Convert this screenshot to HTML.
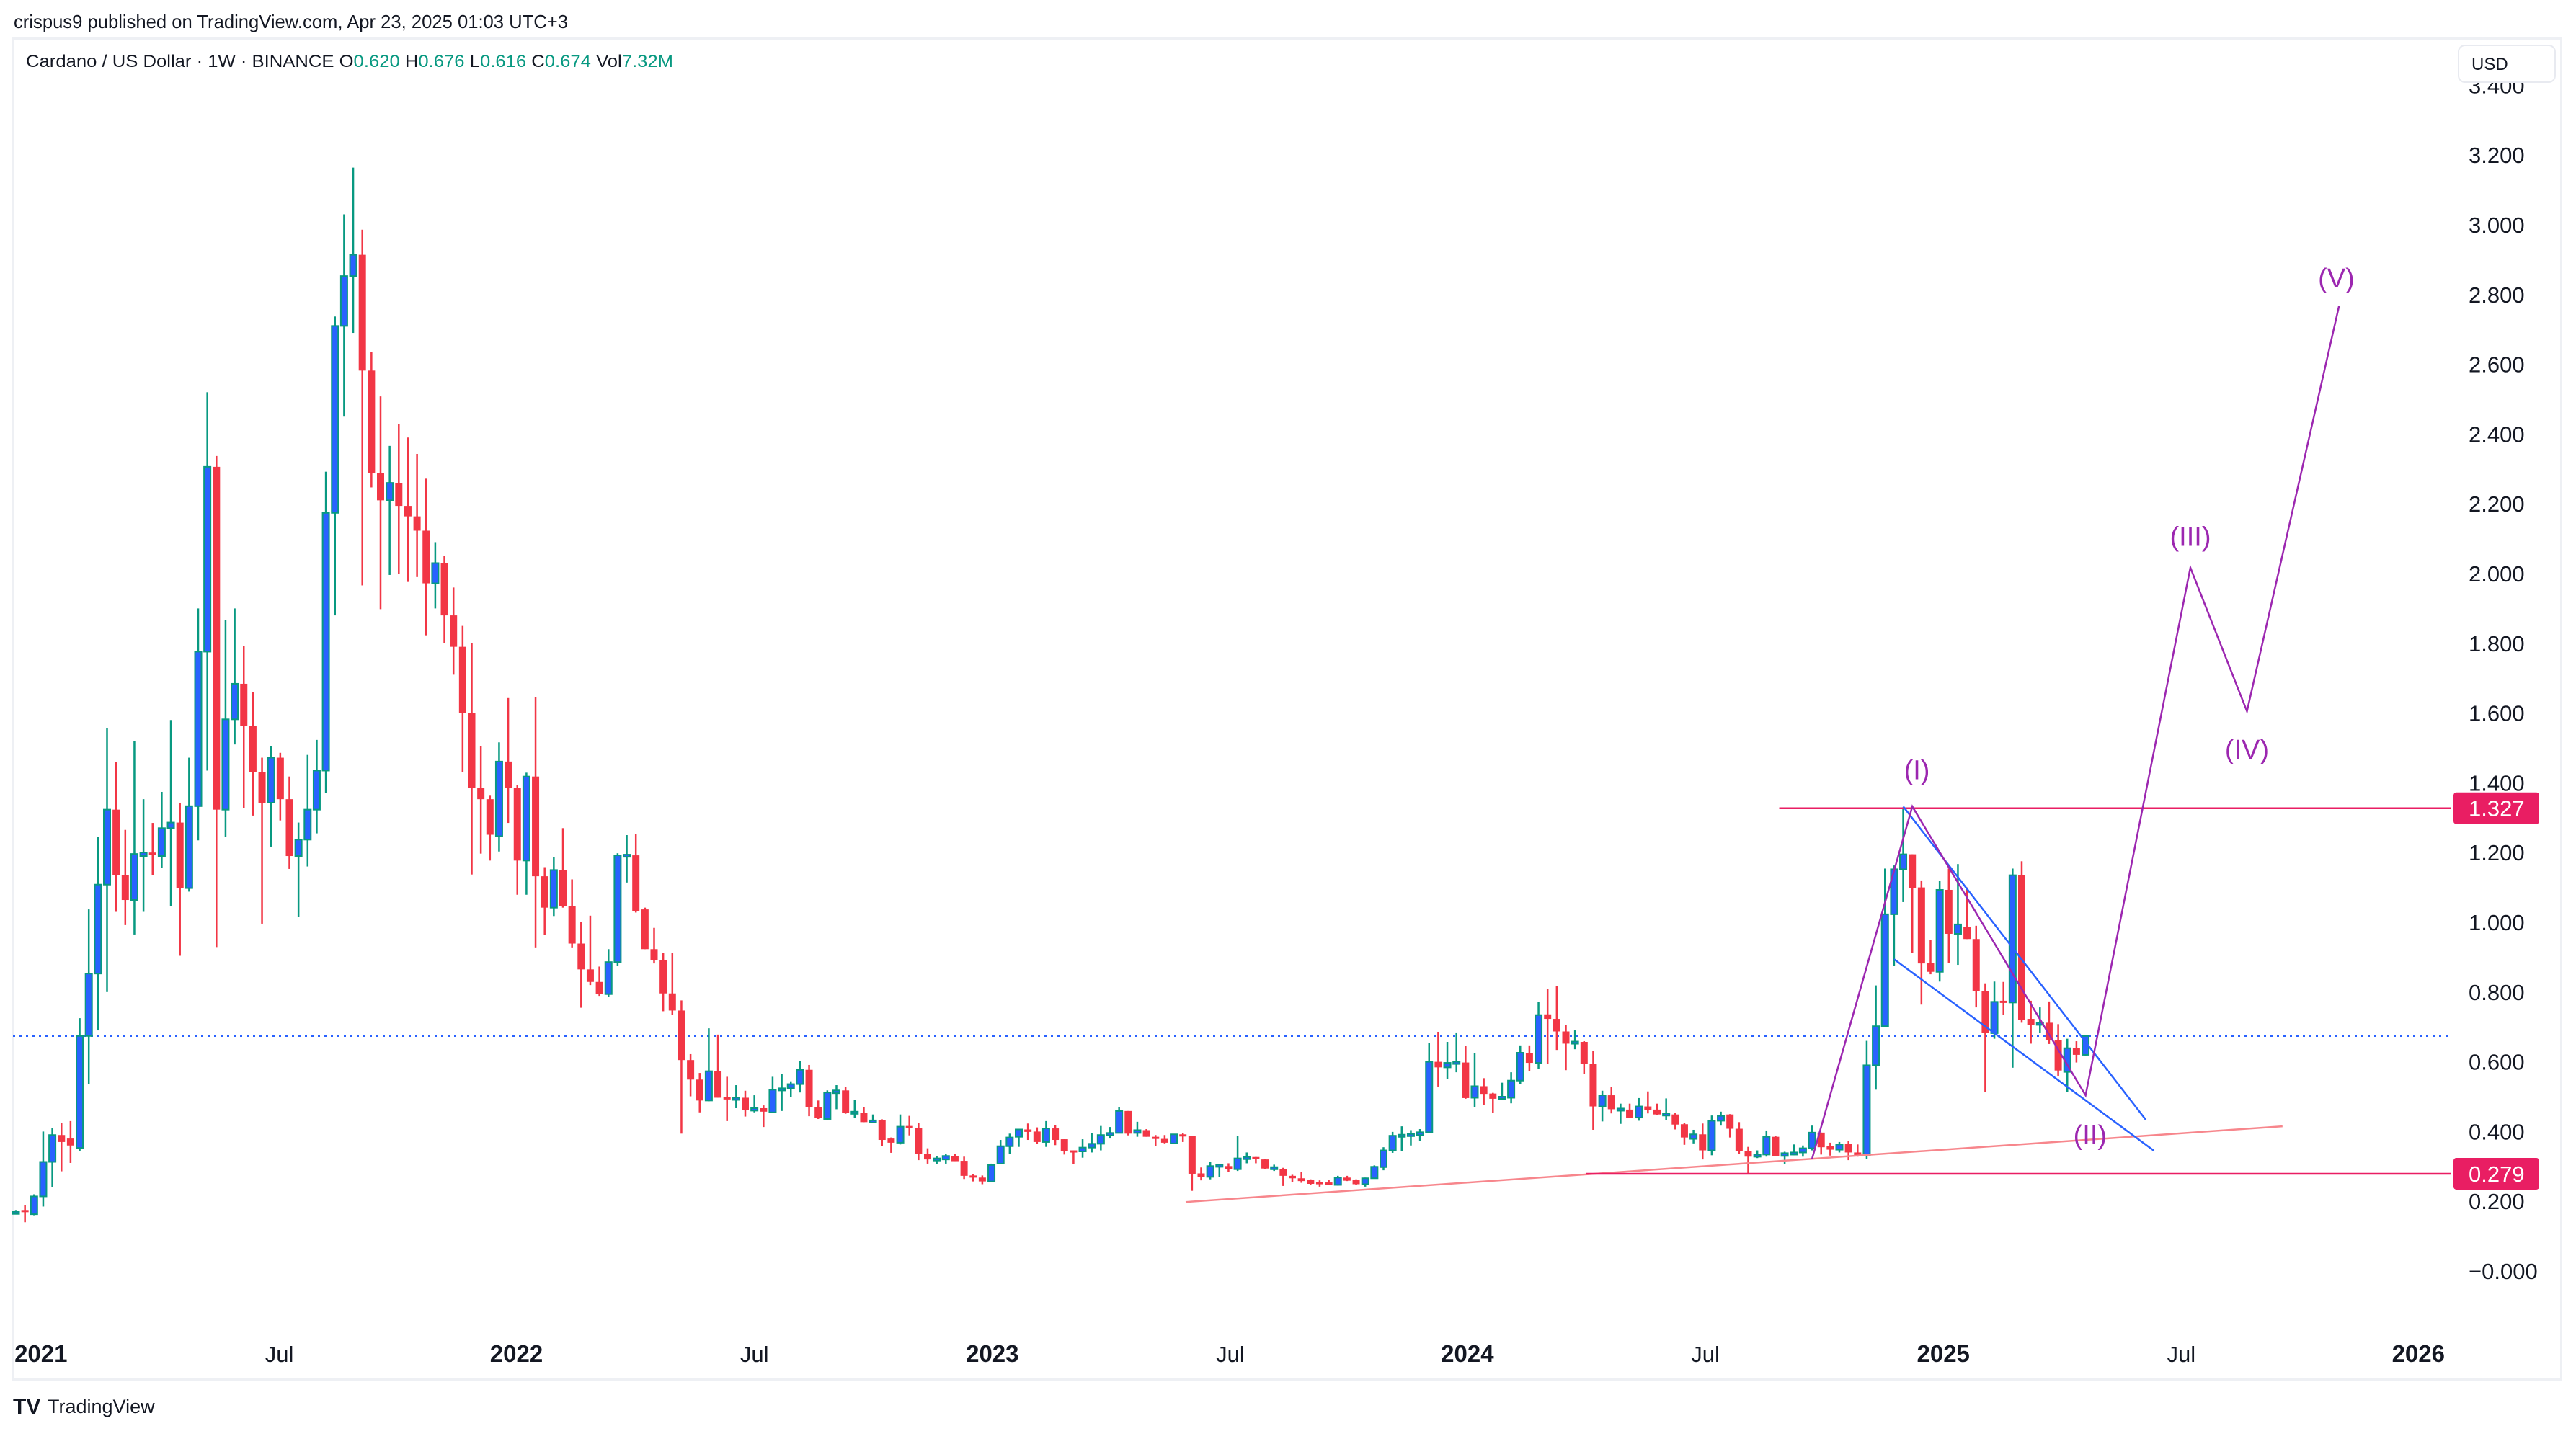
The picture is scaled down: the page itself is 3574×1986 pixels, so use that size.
<!DOCTYPE html>
<html><head><meta charset="utf-8"><title>Cardano / US Dollar 1W</title>
<style>
html,body{margin:0;padding:0;background:#fff;}
svg{display:block;font-family:"Liberation Sans",sans-serif;}
</style></head>
<body>
<svg id="chart" width="3574" height="1986" viewBox="0 0 3574 1986" xmlns="http://www.w3.org/2000/svg">
<defs><clipPath id="axisClip"><rect x="3400" y="110" width="160" height="1760"/></clipPath></defs>
<rect x="0" y="0" width="3574" height="1986" fill="#ffffff"/>
<text x="19" y="39" font-size="26" fill="#131722" textLength="769" lengthAdjust="spacingAndGlyphs">crispus9 published on TradingView.com, Apr 23, 2025 01:03 UTC+3</text>
<rect x="18.5" y="53.5" width="3535" height="1861" fill="#fff" stroke="#eef0f4" stroke-width="3"/>
<g id="grid"></g>
<g id="marks"></g>
<g id="overlay"></g>
<g id="yaxis" clip-path="url(#axisClip)"></g>
<g id="xaxis"></g>
<text x="36" y="93" font-size="24" fill="#131722" textLength="898" lengthAdjust="spacingAndGlyphs">Cardano / US Dollar · 1W · BINANCE  O<tspan fill="#089981">0.620</tspan>  H<tspan fill="#089981">0.676</tspan>  L<tspan fill="#089981">0.616</tspan>  C<tspan fill="#089981">0.674</tspan>  Vol<tspan fill="#089981">7.32M</tspan></text>
<rect x="3411" y="63" width="134" height="51" rx="9" fill="#fff" stroke="#e8eaf0" stroke-width="2"/>
<text x="3429" y="97" font-size="24" fill="#131722">USD</text>
<g>
<text x="18" y="1962" font-size="30" font-weight="bold" fill="#131722">TV</text>
<text x="66" y="1961" font-size="27" fill="#131722">TradingView</text>
</g>
</svg>
<script>
const opens=[.17,.175,.163,.214,.313,.39,.38,.353,.674,.853,1.108,1.323,1.135,1.064,1.19,1.20,1.19,1.27,1.286,1.098,1.333,1.776,2.306,1.323,1.582,1.684,1.564,1.431,1.343,1.472,1.353,1.19,1.237,1.323,1.435,2.174,2.71,2.853,2.914,2.582,2.288,2.21,2.26,2.194,2.164,2.123,1.972,2.03,1.88,1.79,1.60,1.385,1.353,1.247,1.461,1.385,1.177,1.418,1.132,1.042,1.15,1.047,.939,.865,.829,.794,.886,1.192,1.192,1.037,.923,.892,.796,.747,.605,.549,.489,.573,.50,.492,.497,.46,.467,.455,.518,.524,.536,.577,.47,.436,.51,.518,.456,.454,.427,.432,.38,.368,.416,.411,.335,.32,.32,.33,.316,.274,.268,.257,.308,.358,.385,.406,.40,.37,.409,.378,.346,.343,.354,.365,.389,.396,.459,.396,.404,.385,.379,.366,.392,.387,.28,.27,.301,.301,.292,.323,.327,.32,.298,.292,.273,.266,.261,.255,.254,.247,.268,.261,.249,.266,.298,.346,.385,.39,.39,.398,.60,.584,.597,.598,.497,.53,.509,.497,.497,.546,.626,.597,.736,.723,.687,.654,.657,.593,.472,.504,.466,.463,.44,.472,.463,.452,.449,.421,.379,.392,.346,.431,.449,.408,.344,.328,.334,.385,.33,.338,.34,.352,.397,.358,.348,.365,.34,.331,.59,.702,1.023,1.152,1.195,1.10,.883,.858,1.093,.967,.987,.952,.803,.682,.775,.77,1.136,.723,.71,.712,.663,.571,.639,.62];
const highs=[.175,.19,.22,.40,.41,.425,.43,.725,1.037,1.245,1.557,1.46,1.265,1.52,1.353,1.285,1.374,1.58,1.343,1.472,1.90,2.52,2.337,1.867,1.90,1.792,1.66,1.472,1.506,1.486,1.418,1.286,1.48,1.523,2.292,2.737,3.03,3.164,2.986,2.635,2.508,2.366,2.429,2.39,2.343,2.272,2.09,2.05,1.96,1.85,1.80,1.506,1.363,1.516,1.643,1.393,1.429,1.645,1.158,1.186,1.27,1.123,1.0,1.019,.873,.923,1.198,1.25,1.253,1.042,.984,.912,.913,.776,.622,.568,.696,.678,.557,.533,.517,.504,.475,.557,.565,.544,.603,.591,.489,.518,.533,.528,.49,.471,.449,.435,.383,.449,.445,.425,.352,.33,.335,.335,.328,.277,.274,.308,.376,.394,.406,.423,.412,.43,.418,.378,.346,.378,.396,.416,.413,.471,.459,.428,.407,.39,.39,.392,.395,.388,.297,.314,.306,.309,.388,.34,.327,.322,.305,.296,.276,.284,.263,.26,.261,.273,.273,.263,.268,.303,.355,.399,.415,.404,.407,.654,.686,.657,.684,.645,.624,.553,.511,.54,.57,.647,.647,.772,.808,.817,.706,.69,.659,.631,.517,.527,.48,.48,.496,.515,.48,.495,.454,.424,.405,.423,.446,.457,.45,.427,.356,.346,.403,.387,.342,.363,.36,.417,.397,.368,.37,.373,.363,.66,.819,1.154,1.163,1.327,1.195,1.12,.949,1.118,1.154,1.167,1.10,.99,.825,.83,.829,1.154,1.175,.775,.756,.773,.708,.666,.659,.676];
const lows=[.165,.14,.16,.185,.24,.286,.31,.343,.537,.69,.80,1.03,.992,.965,1.03,1.135,1.155,1.047,.904,1.088,1.235,1.435,.929,1.245,1.51,1.327,1.306,.996,1.217,1.292,1.153,1.016,1.16,1.255,1.37,1.88,2.45,2.69,1.966,2.247,1.898,1.996,2.0,1.976,1.99,1.823,1.90,1.80,1.71,1.43,1.137,1.197,1.177,1.203,1.285,1.079,1.079,.928,.963,1.018,1.042,.928,.755,.82,.789,.786,.875,1.114,1.028,.923,.882,.745,.734,.394,.501,.455,.487,.497,.43,.467,.443,.455,.413,.455,.459,.499,.512,.444,.436,.433,.464,.451,.438,.427,.427,.359,.339,.363,.389,.318,.308,.306,.308,.315,.264,.257,.249,.256,.308,.335,.356,.376,.364,.356,.361,.334,.306,.325,.34,.346,.38,.396,.389,.385,.385,.358,.366,.364,.37,.23,.26,.263,.27,.285,.287,.309,.309,.292,.287,.244,.256,.253,.247,.242,.247,.245,.258,.247,.242,.266,.289,.339,.344,.36,.374,.398,.529,.55,.57,.494,.471,.476,.454,.49,.481,.537,.574,.579,.595,.634,.576,.636,.565,.405,.429,.452,.422,.44,.431,.452,.447,.433,.406,.362,.366,.32,.332,.417,.383,.336,.28,.324,.328,.33,.306,.332,.328,.346,.334,.331,.34,.318,.328,.322,.52,.702,.876,1.058,.912,.764,.851,.83,.883,.878,.952,.756,.514,.666,.735,.583,.712,.652,.682,.651,.56,.514,.598,.616];
const closes=[.17,.17,.214,.313,.39,.37,.36,.674,.853,1.108,1.323,1.135,1.064,1.196,1.20,1.196,1.27,1.286,1.098,1.333,1.776,2.306,1.323,1.582,1.684,1.564,1.431,1.343,1.472,1.353,1.19,1.237,1.323,1.435,2.174,2.71,2.853,2.914,2.582,2.288,2.21,2.26,2.194,2.164,2.123,1.972,2.03,1.88,1.79,1.60,1.385,1.353,1.251,1.461,1.385,1.177,1.418,1.132,1.042,1.15,1.047,.939,.865,.829,.794,.886,1.192,1.194,1.031,.923,.892,.796,.747,.605,.549,.489,.573,.497,.492,.497,.462,.467,.457,.52,.524,.536,.577,.47,.438,.512,.518,.454,.457,.427,.432,.376,.368,.414,.412,.335,.32,.323,.33,.315,.273,.268,.257,.304,.358,.383,.406,.399,.37,.409,.376,.343,.344,.354,.365,.39,.396,.459,.394,.404,.385,.379,.368,.392,.387,.279,.27,.301,.305,.292,.323,.327,.322,.294,.298,.273,.266,.258,.25,.254,.252,.268,.259,.249,.266,.299,.346,.388,.391,.393,.398,.60,.584,.597,.60,.496,.53,.508,.494,.50,.546,.626,.597,.734,.723,.687,.652,.658,.593,.472,.504,.464,.466,.44,.472,.461,.449,.452,.42,.383,.392,.346,.431,.445,.408,.344,.328,.334,.385,.33,.338,.34,.352,.397,.355,.348,.363,.34,.331,.59,.702,1.023,1.152,1.195,1.098,.882,.858,1.093,.967,.994,.952,.803,.682,.772,.773,1.135,.72,.706,.712,.663,.575,.639,.62,.674];
const priceTicks=[0,0.2,0.4,0.6,0.8,1.0,1.2,1.4,1.6,1.8,2.0,2.2,2.4,2.6,2.8,3.0,3.2,3.4];
const timeLabels=["2021","Jul","2022","Jul","2023","Jul","2024","Jul","2025","Jul","2026"];
const timeLabelWeeks=[2.75,28.9,54.9,81,107.1,133.2,159.2,185.3,211.4,237.5,263.5];
const lastPrice=0.674;
const levelHigh=1.327, levelLow=0.279;
const waveLabels=["(I)","(II)","(III)","(IV)","(V)"];
const waveWeeks=[208.5,227.5,238.5,244.7,254.5];
const wavePrices=[1.41,0.364,2.08,1.469,2.82];
const wavePathWeeks=[197,208,227,238.5,244.7,254.8];
const wavePathPrices=[0.322,1.332,0.504,2.017,1.605,2.767];
const wedgeUpperW=[207,233.6], wedgeUpperP=[1.332,0.434];
const wedgeLowerW=[206,234.5], wedgeLowerP=[0.894,0.345];
const supportW=[128.3,248.6], supportP=[0.198,0.415];

const NS="http://www.w3.org/2000/svg";
const X0=22, STEP=12.65, PLOT_R=3400;
function xs(i){return X0+i*STEP;}
function ys(p){return 1764-p*484;}
function mk(tag,attrs,parent){const e=document.createElementNS(NS,tag);for(const k in attrs)e.setAttribute(k,attrs[k]);parent.appendChild(e);return e;}
const marks=document.getElementById('marks');
const overlay=document.getElementById('overlay');
const yaxis=document.getElementById('yaxis');
const xaxis=document.getElementById('xaxis');

const lp=mk('line',{x1:18,x2:PLOT_R,y1:ys(lastPrice),y2:ys(lastPrice),stroke:'#2962ff','stroke-width':2.5,'stroke-dasharray':'3 6'},marks);



for(let i=0;i<closes.length;i++){
  const up=closes[i]>=opens[i];
  const cx=xs(i);
  const g=mk('g',{},marks);
  
  
  const wc=up?'#089981':'#f23645';
  mk('rect',{x:cx-1.25,y:ys(highs[i]),width:2.5,height:Math.max(1,ys(lows[i])-ys(highs[i])),fill:wc},g);
  const top=ys(Math.max(opens[i],closes[i])), bot=ys(Math.min(opens[i],closes[i]));
  const h=Math.max(3,bot-top);
  if(up){mk('rect',{x:cx-4.5,y:top,width:9,height:h,fill:'#2962ff',stroke:'#089981','stroke-width':2},g);}
  else{mk('rect',{x:cx-5,y:top,width:10,height:h,fill:'#f23645'},g);}
}

function seg(w,p,color,width,name){
  let d='';for(let k=0;k<w.length;k++)d+=(k?'L':'M')+xs(w[k]).toFixed(1)+' '+ys(p[k]).toFixed(1);
  const e=mk('path',{d:d,fill:'none',stroke:color,'stroke-width':width,'stroke-linejoin':'miter'},overlay);
  
  
}
seg(supportW,supportP,'#f7868c',2.5,'support-trendline');
const hl1=mk('line',{x1:xs(193.4),x2:PLOT_R,y1:ys(levelHigh),y2:ys(levelHigh),stroke:'#e91e63','stroke-width':2.5},overlay);


const hl2=mk('line',{x1:xs(172.2),x2:PLOT_R,y1:ys(levelLow),y2:ys(levelLow),stroke:'#e91e63','stroke-width':2.5},overlay);


seg(wedgeUpperW,wedgeUpperP,'#2962ff',2.5,'wedge-upper-line');
seg(wedgeLowerW,wedgeLowerP,'#2962ff',2.5,'wedge-lower-line');
seg(wavePathWeeks,wavePathPrices,'#9c27b0',2.5,'elliott-wave-path');
for(let k=0;k<waveLabels.length;k++){
  const t=mk('text',{x:xs(waveWeeks[k]),y:ys(wavePrices[k]),'font-size':38,fill:'#9c27b0','text-anchor':'middle'},overlay);
  t.textContent=waveLabels[k];
  
  
}

for(const p of priceTicks){
  const t=mk('text',{x:3425,y:ys(p)+11,'font-size':31,fill:'#131722'},yaxis);
  t.textContent=(p===0?'\u22120.000':p.toFixed(3));
  
  
}
[[levelHigh,'1.327'],[levelLow,'0.279']].forEach(function(v){
  const r=mk('rect',{x:3404,y:ys(v[0])-22,width:119,height:44,rx:4,fill:'#e91e63'},yaxis);
  
  
  const t=mk('text',{x:3425,y:ys(v[0])+11,'font-size':31,fill:'#ffffff'},yaxis);
  t.textContent=v[1];
  
  
});
for(let k=0;k<timeLabels.length;k++){
  const isYear=timeLabels[k]!=='Jul';
  const t=mk('text',{x:xs(timeLabelWeeks[k]),y:1890,'font-size':isYear?33:31,'font-weight':isYear?'bold':'normal',fill:'#131722','text-anchor':'middle'},xaxis);
  t.textContent=timeLabels[k];
  
  
}
</script>
</body></html>
